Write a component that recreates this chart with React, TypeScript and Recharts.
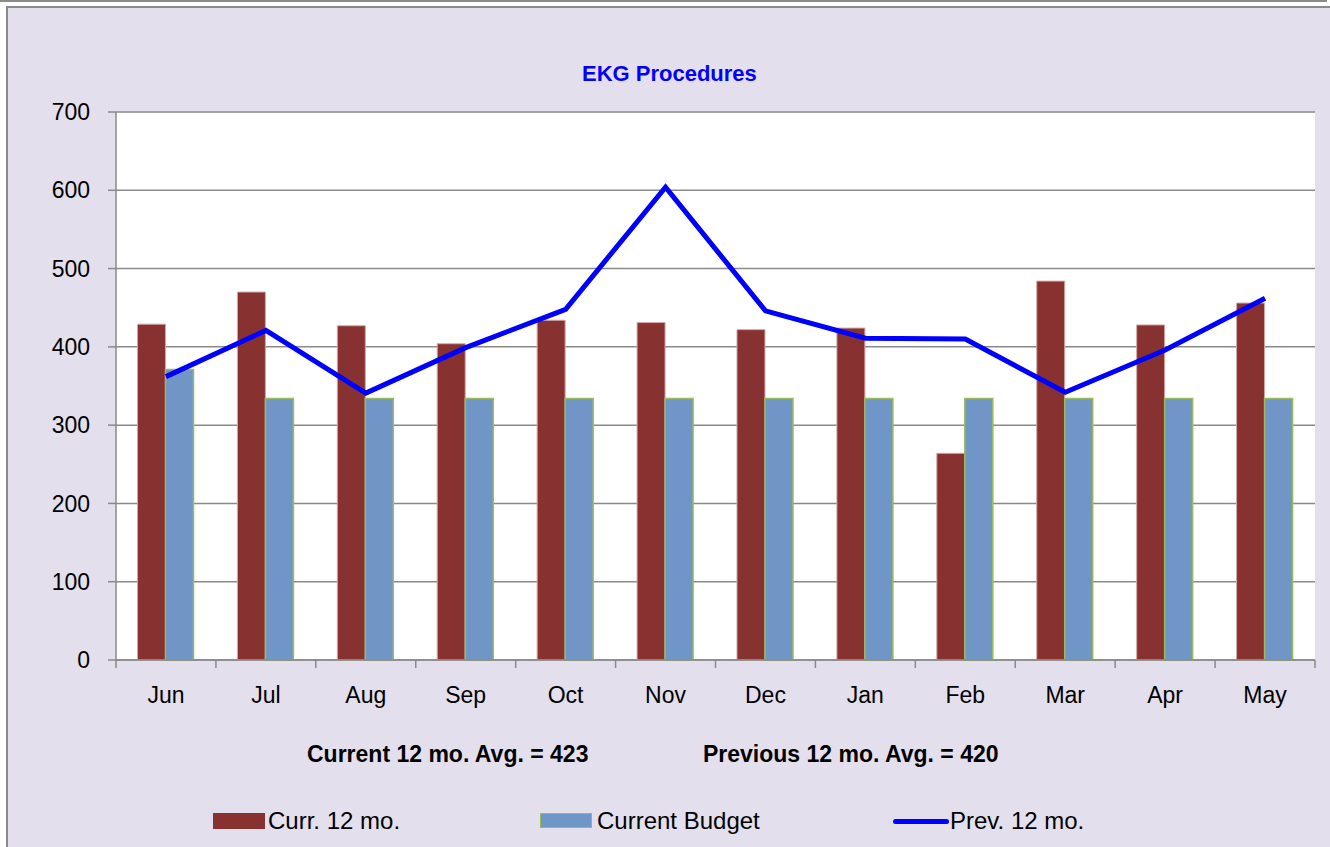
import React from 'react';
import { ComposedChart, Bar, Line, XAxis, YAxis, CartesianGrid, Legend } from 'recharts';

const months = ['Jun', 'Jul', 'Aug', 'Sep', 'Oct', 'Nov', 'Dec', 'Jan', 'Feb', 'Mar', 'Apr', 'May'];
const curr12 = [429, 470, 427, 404, 434, 431, 422, 424, 264, 484, 428, 456];
const budget = [371, 334, 334, 334, 334, 334, 334, 334, 334, 334, 334, 334];
const prev12 = [362, 421, 341, 399, 448, 604, 446, 411, 410, 342, 396, 462];
const yTicks = [0, 100, 200, 300, 400, 500, 600, 700];
const title = 'EKG Procedures';
const currAvgLabel = 'Current 12 mo. Avg. = 423';
const prevAvgLabel = 'Previous 12 mo. Avg. = 420';

const data = months.map((m, i) => ({ month: m, curr: curr12[i], budget: budget[i], prev: prev12[i] }));

const FONT = '"Liberation Sans", Arial, sans-serif';
const RED = '#873230';
const BLUE = '#7096C8';
const GREEN = '#9BBB59';
const LINE = '#0000FF';
const AXIS = '#8a8a8a';
const X_TICK_SIZE = 6;
const X_TICK_MARGIN = 21;

const CategoryTick = (props: any) => {
  const { x, y, payload, index, width, visibleTicksCount } = props;
  const band = width / visibleTicksCount;
  const axisY = y - X_TICK_SIZE - X_TICK_MARGIN;
  const left = x - band / 2;
  const right = x + band / 2;
  return (
    <g>
      <line x1={left} x2={left} y1={axisY} y2={axisY + 8} stroke={AXIS} strokeWidth={1.5} />
      {index === visibleTicksCount - 1 && (
        <line x1={right} x2={right} y1={axisY} y2={axisY + 8} stroke={AXIS} strokeWidth={1.5} />
      )}
      <text x={x} y={y} dy="0.71em" textAnchor="middle" fill="#000" fontSize={23} fontFamily={FONT}>
        {payload.value}
      </text>
    </g>
  );
};

const renderLegend = () => (
  <div style={{ position: 'relative', height: 0, width: 1330, fontFamily: FONT }}>
    <div style={{ position: 'absolute', left: 213, top: 813, width: 52, height: 16, background: RED }} />
    <div style={{ position: 'absolute', left: 268, top: 809, fontSize: 24, lineHeight: '24px', color: '#000', whiteSpace: 'nowrap' }}>Curr. 12 mo.</div>
    <div style={{ position: 'absolute', left: 540, top: 813, width: 50, height: 13, background: BLUE, border: `1.5px solid ${GREEN}` }} />
    <div style={{ position: 'absolute', left: 597, top: 809, fontSize: 24, lineHeight: '24px', color: '#000', whiteSpace: 'nowrap' }}>Current Budget</div>
    <div style={{ position: 'absolute', left: 893, top: 818.5, width: 56, height: 5, background: LINE, borderRadius: 3 }} />
    <div style={{ position: 'absolute', left: 950, top: 809, fontSize: 24, lineHeight: '24px', color: '#000', whiteSpace: 'nowrap' }}>Prev. 12 mo.</div>
  </div>
);

export default function App() {
  return (
    <div style={{ position: 'absolute', left: 0, top: 0, width: 1330, height: 847, background: '#fff', overflow: 'hidden', fontFamily: FONT }}>
      <div style={{ position: 'absolute', left: 0, top: 0, width: 1327, height: 2, background: AXIS }} />
      <div style={{ position: 'absolute', left: 6, top: 6, width: 1340, height: 860, background: '#E4DFEC', borderLeft: `2px solid ${AXIS}`, borderTop: `2px solid ${AXIS}` }} />
      <div style={{ position: 'absolute', left: 582, top: 63, fontSize: 22, lineHeight: '22px', fontWeight: 'bold', color: '#0000FF', whiteSpace: 'nowrap' }}>{title}</div>
      <div style={{ position: 'absolute', left: 307, top: 743, fontSize: 23, lineHeight: '23px', fontWeight: 'bold', color: '#000', whiteSpace: 'nowrap' }}>{currAvgLabel}</div>
      <div style={{ position: 'absolute', left: 703, top: 743, fontSize: 23, lineHeight: '23px', fontWeight: 'bold', color: '#000', whiteSpace: 'nowrap' }}>{prevAvgLabel}</div>
      <div style={{ position: 'absolute', left: 0, top: 0 }}>
        <ComposedChart
          width={1330}
          height={847}
          data={data}
          margin={{ top: 112, right: 15, bottom: 147, left: 36 }}
          barCategoryGap="21.5%"
          barGap={0}
          style={{ fontFamily: FONT }}
        >
          <CartesianGrid horizontal vertical={false} stroke={AXIS} strokeWidth={1.5} fill="#ffffff" fillOpacity={1} />
          <XAxis
            dataKey="month"
            height={40}
            axisLine={{ stroke: AXIS, strokeWidth: 1.5 }}
            tickLine={false}
            tickSize={X_TICK_SIZE}
            tickMargin={X_TICK_MARGIN}
            interval={0}
            tick={<CategoryTick />}
          />
          <YAxis
            domain={[0, 700]}
            ticks={yTicks}
            width={80}
            interval={0}
            axisLine={{ stroke: AXIS, strokeWidth: 1.5 }}
            tickLine={{ stroke: AXIS, strokeWidth: 1.5 }}
            tickSize={8}
            tickMargin={18}
            tick={{ fill: '#000', fontSize: 23, fontFamily: FONT }}
          />
          <Bar dataKey="curr" name="Curr. 12 mo." fill={RED} stroke="#D2A8A6" strokeWidth={1} isAnimationActive={false} />
          <Bar dataKey="budget" name="Current Budget" fill={BLUE} stroke={GREEN} strokeWidth={1.5} isAnimationActive={false} />
          <Line type="linear" dataKey="prev" name="Prev. 12 mo." stroke={LINE} strokeWidth={5} dot={false} activeDot={false} isAnimationActive={false} />
          <Legend content={renderLegend} wrapperStyle={{ position: 'absolute', left: 0, top: 0, width: 1330, height: 0 }} />
        </ComposedChart>
      </div>
    </div>
  );
}
